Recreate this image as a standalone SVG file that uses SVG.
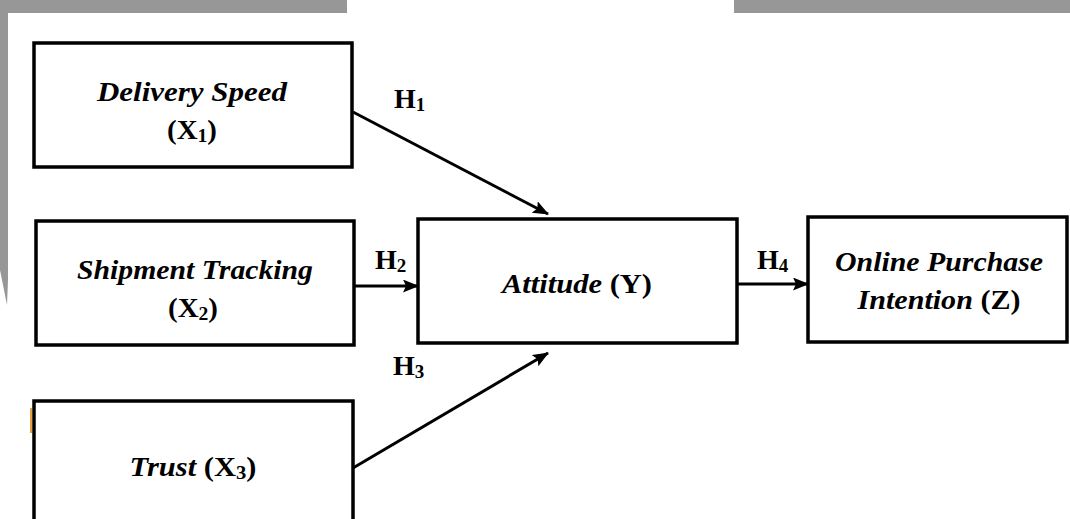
<svg xmlns="http://www.w3.org/2000/svg" width="1070" height="519" viewBox="0 0 1070 519">
<style>
.box{fill:#fff;stroke:#000;stroke-width:3.5}
.bg{fill:#979797}
.name{font-family:"Liberation Serif","Times New Roman",serif;font-size:28px;font-weight:bold;font-style:italic;fill:#000}
.var{font-family:"Liberation Serif","Times New Roman",serif;font-size:28px;font-weight:bold;font-style:normal;fill:#000}
.h{font-family:"Liberation Serif","Times New Roman",serif;font-size:28px;font-weight:bold;fill:#000}
.sub{font-size:19px}
.conn{stroke:#000;stroke-width:3;fill:none;marker-end:url(#ah)}
</style>
<defs>
<marker id="ah" markerUnits="userSpaceOnUse" markerWidth="16" markerHeight="14" refX="15" refY="6.5" orient="auto">
<path d="M0,0 L16,6.5 L0,13 L3,6.5 z" fill="#000"/>
</marker>
</defs>
<rect width="1070" height="519" fill="#fff"/>
<g id="background">
<rect class="bg" x="0" y="0" width="347" height="13"/>
<rect class="bg" x="734" y="0" width="336" height="13"/>
<polygon class="bg" points="0,13 8,13 8,280 7,305 0,270"/>
</g>
<g id="node-delivery">
<rect class="box" x="34" y="43" width="318" height="124"/>
<text class="name" x="192" y="101" text-anchor="middle" textLength="190" lengthAdjust="spacingAndGlyphs">Delivery Speed</text>
<text class="var" x="192" y="139" text-anchor="middle" textLength="50" lengthAdjust="spacingAndGlyphs">(X<tspan class="sub" dy="3">1</tspan><tspan dy="-3">)</tspan></text>
</g>
<g id="node-shipment">
<rect class="box" x="36" y="221" width="318" height="124"/>
<text class="name" x="195" y="279" text-anchor="middle" textLength="236" lengthAdjust="spacingAndGlyphs">Shipment Tracking</text>
<text class="var" x="193" y="317" text-anchor="middle" textLength="50" lengthAdjust="spacingAndGlyphs">(X<tspan class="sub" dy="3">2</tspan><tspan dy="-3">)</tspan></text>
</g>
<g id="node-trust">
<rect class="box" x="34" y="401" width="319" height="130"/>
<line x1="31" y1="408" x2="31" y2="433" stroke="#e8a040" stroke-width="2"/>
<text class="name" x="193" y="476" text-anchor="middle" textLength="127" lengthAdjust="spacingAndGlyphs"><tspan>Trust </tspan><tspan class="var">(X</tspan><tspan class="var sub" dy="3">3</tspan><tspan class="var" dy="-3">)</tspan></text>
</g>
<g id="node-attitude">
<rect class="box" x="418" y="219" width="319" height="124"/>
<text class="name" x="577" y="293" text-anchor="middle" textLength="150" lengthAdjust="spacingAndGlyphs"><tspan>Attitude </tspan><tspan class="var">(Y)</tspan></text>
</g>
<g id="node-intention">
<rect class="box" x="808" y="217" width="259" height="125"/>
<text class="name" x="939" y="271" text-anchor="middle" textLength="208" lengthAdjust="spacingAndGlyphs">Online Purchase</text>
<text class="name" x="939" y="309" text-anchor="middle" textLength="163" lengthAdjust="spacingAndGlyphs"><tspan>Intention </tspan><tspan class="var">(Z)</tspan></text>
</g>
<g id="connectors">
<line class="conn" x1="353" y1="112" x2="548" y2="214"/>
<line class="conn" x1="354" y1="286" x2="418" y2="286"/>
<line class="conn" x1="353" y1="468" x2="548" y2="353"/>
<line class="conn" x1="737" y1="284" x2="808" y2="284"/>
<text class="h" x="394" y="108">H<tspan class="sub" dy="3">1</tspan></text>
<text class="h" x="375" y="269">H<tspan class="sub" dy="3">2</tspan></text>
<text class="h" x="393" y="375">H<tspan class="sub" dy="3">3</tspan></text>
<text class="h" x="757" y="269">H<tspan class="sub" dy="3">4</tspan></text>
</g>
</svg>
